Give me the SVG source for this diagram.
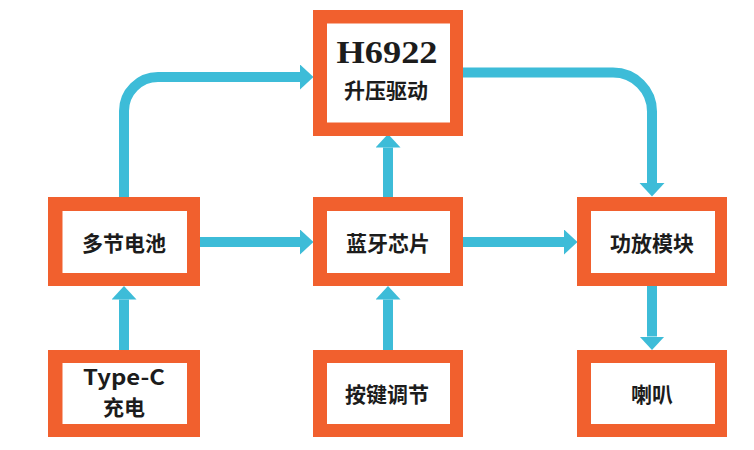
<svg xmlns="http://www.w3.org/2000/svg" width="754" height="450" viewBox="0 0 754 450">
<style>
.box{fill:#F1602E}
.inner{fill:#FFFFFF}
.lbl{font-family:"Noto Sans CJK SC","Noto Sans",sans-serif;font-weight:bold;font-size:21px;fill:#1c1c1c;text-anchor:middle}
.conn{fill:none;stroke:#3DBCD8;stroke-width:10}
</style>
<defs>
<marker id="ah" markerUnits="userSpaceOnUse" markerWidth="14" markerHeight="26" refX="0" refY="12.5" orient="auto">
<path d="M0,0 L13.5,12.5 L0,25 Z" fill="#3DBCD8"/>
</marker>
</defs>
<rect width="754" height="450" fill="#FFFFFF"/>
<g id="connectors">
<path class="conn" d="M124,197 V111 A34,34 0 0 1 158,77 H300" marker-end="url(#ah)"/>
<path class="conn" d="M463,72.5 H613 A39,39 0 0 1 652,111.5 V183" marker-end="url(#ah)"/>
<path class="conn" d="M200,242 H300" marker-end="url(#ah)"/>
<path class="conn" d="M463,242 H564" marker-end="url(#ah)"/>
<path class="conn" d="M388,197 V147.5" marker-end="url(#ah)"/>
<path class="conn" d="M388,350 V299.5" marker-end="url(#ah)"/>
<path class="conn" d="M124,350 V299.5" marker-end="url(#ah)"/>
<path class="conn" d="M652,286 V336.5" marker-end="url(#ah)"/>
</g>
<g id="h6922">
<rect class="box" x="313" y="10" width="150" height="126"/>
<rect class="inner" x="327" y="23.5" width="123" height="99"/>
<text x="387" y="63" font-family="'Liberation Serif',serif" font-weight="bold" font-size="32" fill="#1c1c1c" text-anchor="middle" textLength="101" lengthAdjust="spacingAndGlyphs">H6922</text>
<text class="lbl" x="386" y="98" font-size="23">升压驱动</text>
</g>
<g id="battery">
<rect class="box" x="48" y="197" width="152" height="89"/>
<rect class="inner" x="62.5" y="211" width="124.5" height="62"/>
<text class="lbl" x="124" y="251">多节电池</text>
</g>
<g id="bluetooth">
<rect class="box" x="313" y="197" width="150" height="89"/>
<rect class="inner" x="327" y="211" width="123" height="62"/>
<text class="lbl" x="388" y="251">蓝牙芯片</text>
</g>
<g id="amp">
<rect class="box" x="577" y="197" width="150" height="89"/>
<rect class="inner" x="591" y="211" width="124" height="62"/>
<text class="lbl" x="652" y="251">功放模块</text>
</g>
<g id="typec">
<rect class="box" x="48" y="350" width="152" height="87"/>
<rect class="inner" x="62.5" y="363" width="124.5" height="61"/>
<text class="lbl" x="124" y="385" font-size="22" textLength="82" lengthAdjust="spacingAndGlyphs">Type-C</text>
<text class="lbl" x="124" y="415" font-size="22">充电</text>
</g>
<g id="keys">
<rect class="box" x="313" y="350" width="150" height="87"/>
<rect class="inner" x="327" y="363" width="123" height="61"/>
<text class="lbl" x="387" y="402">按键调节</text>
</g>
<g id="speaker">
<rect class="box" x="577" y="350" width="150" height="87"/>
<rect class="inner" x="591" y="363" width="124" height="61"/>
<text class="lbl" x="652" y="402">喇叭</text>
</g>
</svg>
